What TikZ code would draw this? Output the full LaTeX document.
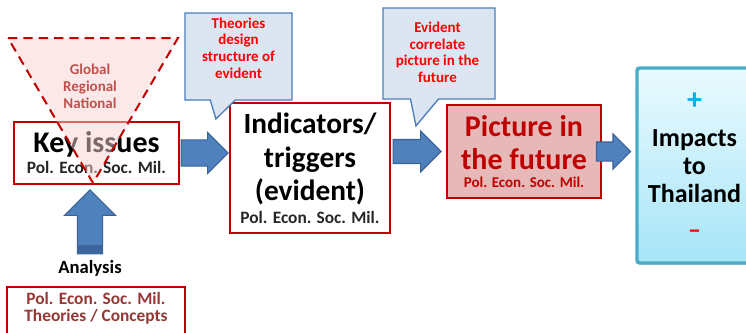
\documentclass[tikz,border=0pt]{standalone}
\usepackage{fontspec}
\setmainfont{Carlito}
\usetikzlibrary{shapes.arrows, shapes.callouts, shadows, calc, positioning}
\definecolor{boxred}{HTML}{C00000}
\definecolor{softred}{HTML}{C0504D}
\definecolor{brownred}{HTML}{953735}
\definecolor{futfill}{HTML}{E6B9B8}
\definecolor{arrowblue}{HTML}{4F81BD}
\definecolor{arrowedge}{HTML}{3A6296}
\definecolor{notefill}{HTML}{DCE6F2}
\definecolor{noteedge}{HTML}{4A7EBB}
\definecolor{impedge}{HTML}{4BACC6}
\definecolor{imptop}{HTML}{EAFAFE}
\definecolor{impbottom}{HTML}{A6E5F8}
\definecolor{plusblue}{HTML}{00B0F0}
\definecolor{conefill}{HTML}{F8D3D3}

\begin{document}
\begin{tikzpicture}[x=0.75pt, y=-0.75pt,
  box/.style={draw=boxred, line width=1.6pt, fill=white, inner sep=0pt, align=center},
  flow/.style={single arrow, draw=arrowedge, fill=arrowblue, line width=0.8pt, single arrow tip angle=90},
  note/.style={rectangle callout, draw=noteedge, fill=notefill, line width=1pt, inner sep=0pt},
  notetext/.style={font=\bfseries\fontsize{11.25}{12.4}\selectfont, text=red, align=center}
]
\clip (0,0) rectangle (746,332);

% Boxes
\node[box, minimum width=123.75pt, minimum height=46.5pt, font=\bfseries\fontsize{22.5}{15.75}\selectfont] (key) at (96.5,153)
  {Key issues\\ {\fontsize{13}{15.75}\selectfont\color{black!85}Pol. Econ. Soc. Mil.}};
\node[box, minimum width=120pt, minimum height=97.5pt, font=\bfseries\fontsize{22}{25.25}\selectfont] (ind) at (310,168)
  {Indicators/\\ triggers\\ (evident)\\[-8.5pt] {\fontsize{13}{25.25}\selectfont\color{black!85}Pol. Econ. Soc. Mil.}};
\node[box, fill=futfill, text=boxred, minimum width=115.5pt, minimum height=69.75pt, font=\bfseries\fontsize{22.5}{24.75}\selectfont] (fut) at (524,151.5)
  {Picture in\\ the future\\[-11.25pt] {\fontsize{11.25}{24.75}\selectfont Pol. Econ. Soc. Mil.}};
\node[draw=impedge, line width=2.6pt, rounded corners=2pt, top color=imptop, bottom color=impbottom,
  drop shadow={shadow xshift=1pt, shadow yshift=-1.5pt, opacity=0.3},
  minimum width=86.25pt, minimum height=146.25pt, inner sep=0pt, align=center,
  font=\bfseries\fontsize{19.5}{21}\selectfont] (imp) at (694.5,165.5)
  {{\fontsize{22.5}{21}\selectfont\color{plusblue}+}\\[6.75pt] Impacts\\ to\\ Thailand\\[6pt] {\color{red}--}};

% Scope cone
\draw[draw=boxred, line width=1.5pt, dash pattern=on 7pt off 4.5pt, fill=conefill, fill opacity=0.5]
  (8,38) -- (178,38) -- (93,183) -- cycle;
\node[font=\bfseries\fontsize{11.25}{12.75}\selectfont, text=softred, align=center] (glob) at (90,86)
  {Global\\ Regional\\ National};

% Source box
\node[box, anchor=north, minimum width=133.5pt, minimum height=45pt] (src) at (96,286) {};
\node[font=\bfseries\fontsize{13}{12.75}\selectfont, text=brownred, align=center] (srctext) at (96,308.5)
  {Pol. Econ. Soc. Mil.\\ Theories / Concepts};
\node[font=\bfseries\fontsize{14}{16}\selectfont] (ana) at (90,268) {Analysis};

% Block arrows
\node[flow, anchor=tip, inner sep=9.4pt, single arrow head extend=5.6pt, minimum height=35.25pt] (a1) at (ind.west |- key) {};
\node[flow, anchor=tip, inner sep=8.6pt, single arrow head extend=6.4pt, minimum height=36pt] (a2) at ($(fut.west)+(-4,0)$) {};
\node[flow, anchor=tip, inner sep=6.75pt, single arrow head extend=6pt, minimum height=25.5pt] (a3) at ($(imp.west |- fut)+(-4,0)$) {};
\node[flow, anchor=tip, shape border rotate=90, inner sep=9pt, single arrow head extend=9.75pt, minimum height=48pt] (up) at ($(key.south)+(-6.5,4)$) {};
\fill[arrowedge!85!arrowblue] ($(up.before tail)+(0,-0.6)$) rectangle ($(up.after tail)+(0,-9)$);

% Callouts
\node[note, minimum width=80.25pt, minimum height=65.25pt, callout pointer width=18.75pt,
  callout absolute pointer={($(ind.north west)+(-13,17)$)}] (th) at (238.5,56.5) {};
\node[notetext] (thtext) at ($(th.center)+(0,-8.5)$) {Theories\\ design\\ structure of\\ evident};
\node[note, minimum width=84pt, minimum height=68.25pt, callout pointer width=21pt,
  callout absolute pointer={($(fut.north west)+(-30,22)$)}] (ev) at (439,53.5) {};
\node[notetext] (evtext) at ($(ev.center)+(-1.5,-1)$) {Evident\\ correlate\\ picture in the\\ future};
\end{tikzpicture}
\end{document}
